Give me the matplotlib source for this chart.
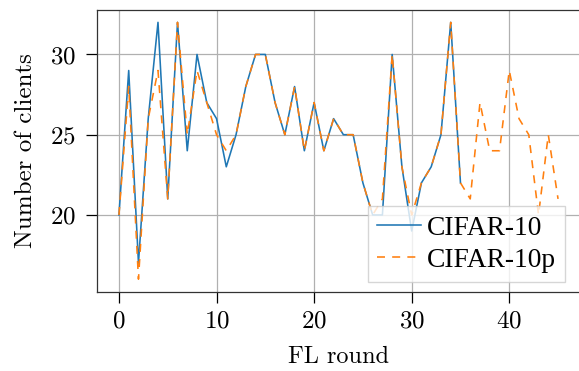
import matplotlib
matplotlib.use("Agg")
import matplotlib.pyplot as plt

rounds_a = list(range(36))
cifar10 = [20, 29, 17, 26, 32, 21, 32, 24, 30, 27, 26, 23, 25, 28, 30, 30, 27, 25, 28, 24,
           27, 24, 26, 25, 25, 22, 20, 20, 30, 23, 19, 22, 23, 25, 32, 22]
rounds_b = list(range(46))
cifar10p = [20, 28, 16, 26, 29, 21, 32, 25, 29, 27, 25, 24, 25, 28, 30, 30, 27, 25, 28, 24,
            27, 24, 26, 25, 25, 22, 20, 21, 30, 23, 20, 22, 23, 25, 32, 22, 21, 27, 24, 24,
            29, 26, 25, 20, 25, 21]
xticks = [0, 10, 20, 30, 40]
yticks = [20, 25, 30]

plt.rcParams['font.family'] = ['cmr10', 'DejaVu Serif']
plt.rcParams['mathtext.fontset'] = 'cm'
plt.rcParams['axes.formatter.use_mathtext'] = True
plt.rcParams['font.size'] = 18

fig = plt.figure(figsize=(5.79, 3.71), dpi=100)
ax = fig.add_axes([97/579, 79/371, 483/579, 282.5/371])

ax.plot(rounds_a, cifar10, color='tab:blue', lw=1.15, label='CIFAR-10', zorder=3)
ax.plot(rounds_b, cifar10p, color='tab:orange', lw=1.15, dashes=(5, 4.5), label='CIFAR-10p', zorder=4)

ax.set_xlim(-2.25, 47.25)
ax.set_ylim(15.2, 32.8)
ax.set_xticks(xticks)
ax.set_yticks(yticks)
ax.grid(True, color='#b0b0b0', lw=0.9)
ax.set_axisbelow(True)
ax.tick_params(axis='both', length=8, width=0.9, labelsize=18)
ax.tick_params(axis='x', pad=5)
ax.tick_params(axis='y', pad=7)
for s in ax.spines.values():
    s.set_linewidth(0.9)
    s.set_color('#333333')

ax.set_xlabel('FL round', fontsize=17.5, labelpad=10)
ax.set_ylabel('Number of clients', fontsize=18, labelpad=9.5)
ax.legend(loc='lower right', bbox_to_anchor=(565/579, (371-282)/371),
          bbox_transform=fig.transFigure, borderaxespad=0,
          fancybox=False, edgecolor='0.8', framealpha=0.8,
          prop={'family': 'Liberation Serif', 'size': 19.8},
          handlelength=1.62, handletextpad=0.2, labelspacing=0.26, borderpad=0.33)

fig.savefig('out.png', dpi=100)
